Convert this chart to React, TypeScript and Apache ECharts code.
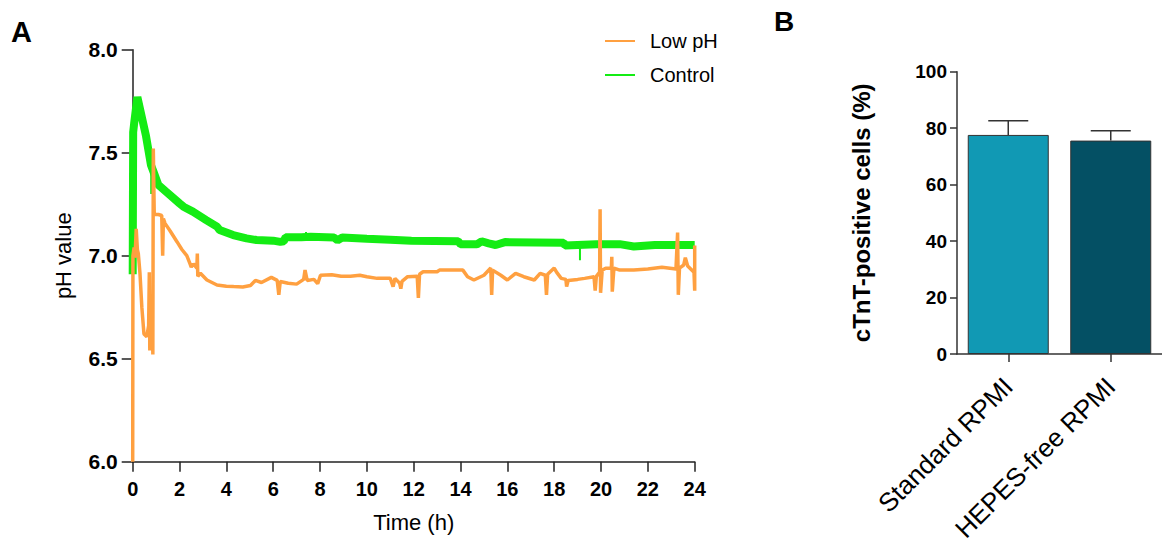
import React, { useEffect, useRef } from "react";
import * as echarts from "echarts";

// Panel A: pH traces over 24 h, [time (h), pH]
const lowPhTrace: [number, number][] = [
  [0, 6.0], [0.01, 7.0], [0.06, 7.04], [0.1, 6.99], [0.15, 7.13], [0.2, 7.03], [0.24, 7.01],
  [0.31, 6.915], [0.39, 6.75], [0.48, 6.62], [0.6, 6.607], [0.68, 6.66], [0.71, 6.92], [0.73, 6.54],
  [0.77, 6.72], [0.84, 6.74], [0.86, 6.52], [0.88, 7.52], [0.92, 7.2], [1.1, 7.2], [1.24, 7.195],
  [1.28, 7.0], [1.31, 7.18], [1.38, 7.157], [1.6, 7.12], [1.89, 7.068], [2.1, 7.03], [2.31, 7.0],
  [2.45, 6.96], [2.5, 6.945], [2.6, 6.96], [2.74, 6.94], [2.76, 7.01], [2.78, 6.9], [2.89, 6.915],
  [3.17, 6.882], [3.6, 6.858], [4.0, 6.852], [4.31, 6.85], [4.7, 6.848], [5.03, 6.855], [5.24, 6.88],
  [5.5, 6.87], [5.92, 6.895], [6.17, 6.88], [6.24, 6.81], [6.3, 6.875], [6.64, 6.866], [7.0, 6.862],
  [7.3, 6.885], [7.36, 6.93], [7.45, 6.88], [7.74, 6.885], [7.9, 6.864], [8.02, 6.905], [8.5, 6.908],
  [8.9, 6.9], [9.3, 6.9], [9.7, 6.905], [10.0, 6.898], [10.44, 6.89], [11.0, 6.89], [11.12, 6.85],
  [11.2, 6.89], [11.4, 6.866], [11.45, 6.84], [11.5, 6.875], [11.74, 6.898], [12.15, 6.9], [12.2, 6.795],
  [12.25, 6.91], [12.4, 6.922], [13.0, 6.922], [13.1, 6.93], [14.1, 6.93], [14.3, 6.898], [14.57, 6.882],
  [15.0, 6.905], [15.29, 6.94], [15.33, 6.81], [15.37, 6.93], [15.72, 6.905], [16.0, 6.882], [16.35, 6.914],
  [16.7, 6.898], [17.15, 6.882], [17.4, 6.914], [17.62, 6.905], [17.67, 6.81], [17.72, 6.91], [18.0, 6.94],
  [18.1, 6.92], [18.3, 6.89], [18.5, 6.885], [18.53, 6.85], [18.6, 6.88], [19.0, 6.885], [19.3, 6.89],
  [19.7, 6.898], [19.75, 6.83], [19.8, 6.9], [19.94, 6.92], [19.96, 7.225], [19.98, 6.82], [20.05, 6.93],
  [20.2, 6.939], [20.44, 6.94], [20.46, 6.995], [20.48, 6.825], [20.55, 6.94], [20.8, 6.93], [21.4, 6.93],
  [22.0, 6.935], [22.6, 6.944], [23.2, 6.935], [23.27, 7.112], [23.3, 6.81], [23.35, 6.94], [23.53, 6.955],
  [23.6, 6.99], [23.7, 6.95], [23.97, 6.92], [24, 6.83], [24, 7.05],
];

const controlTrace: [number, number][] = [
  [0, 6.91], [0.02, 7.6], [0.06, 7.64], [0.2, 7.77], [0.57, 7.58], [0.78, 7.44],
  [0.88, 7.41], [1.1, 7.343], [1.43, 7.31], [2.0, 7.254], [2.17, 7.238], [2.57, 7.214],
  [3.14, 7.173], [3.6, 7.141], [3.71, 7.125], [4.29, 7.1], [4.86, 7.084], [5.29, 7.076], [6.0, 7.073],
  [6.3, 7.067], [6.45, 7.07], [6.53, 7.09], [7.2, 7.09], [7.6, 7.092], [8.6, 7.088],
  [8.75, 7.075], [8.95, 7.088], [10.0, 7.082], [11.0, 7.078], [11.9, 7.072], [13.9, 7.07], [14.0, 7.056],
  [14.7, 7.055], [14.9, 7.07], [15.2, 7.06], [15.5, 7.052], [15.9, 7.066], [18.4, 7.063], [18.46, 7.05],
  [19.8, 7.056], [20.8, 7.056], [21.4, 7.045], [22.3, 7.052], [24, 7.052],
];

// thin noise spikes of the control trace ('-' breaks the line)
const controlSpikes: [number, number | string][] = [
  [0.79, 7.42], [0.79, 7.3], [0.79, "-"],
  [7.4, 7.09], [7.4, 7.115], [7.4, "-"],
  [19.1, 7.04], [19.1, 6.978], [19.1, "-"],
];

// Panel B: cTnT-positive cells
const cellCategories = ["Standard RPMI", "HEPES-free RPMI"];
const cellMeans = [77.6, 75.6];
const cellErrors = [5.0, 3.5];

const FONT = '"Liberation Sans", Arial, sans-serif';
const AXIS_COLOR = "#222";
const GREEN = "#14ec14";
const ORANGE = "#ffa040";

export default function App() {
  const ref = useRef<HTMLDivElement>(null);

  useEffect(() => {
    if (!ref.current) return;
    const chart = echarts.init(ref.current, undefined, { renderer: "svg" });

    const axisLine = { show: true, onZero: false, lineStyle: { color: AXIS_COLOR, width: 1.5 } };
    const tickStyle = { color: AXIS_COLOR, width: 1.5 };

    chart.setOption({
      animation: false,
      textStyle: { fontFamily: FONT },
      graphic: [
        { type: "text", left: 11, top: 17, style: { text: "A", font: `bold 29px ${FONT}`, fill: "#000" } },
        { type: "text", left: 774, top: 7, style: { text: "B", font: `bold 28px ${FONT}`, fill: "#000" } },
      ],
      legend: {
        data: ["Low pH", "Control"],
        orient: "vertical",
        left: 605,
        top: 31,
        padding: 0,
        icon: "rect",
        itemWidth: 30,
        itemHeight: 2,
        itemGap: 14,
        textStyle: { fontSize: 20, color: "#000", lineHeight: 20, padding: [0, 0, 0, 10] },
      },
      grid: [
        { left: 132.7, top: 49.7, width: 562, height: 412 },
        { left: 957, top: 71.7, width: 212, height: 282.3 },
      ],
      xAxis: [
        {
          gridIndex: 0,
          type: "value",
          min: 0,
          max: 24,
          interval: 2,
          name: "Time (h)",
          nameLocation: "middle",
          nameGap: 50,
          nameTextStyle: { fontSize: 22, color: "#000" },
          axisLine,
          axisTick: { show: true, length: 10, lineStyle: tickStyle },
          axisLabel: { fontSize: 20, fontWeight: "bold", color: "#000", margin: 17 },
          splitLine: { show: false },
        },
        {
          gridIndex: 1,
          type: "category",
          data: cellCategories,
          axisLine: { show: true, lineStyle: { color: "#333", width: 1.5 } },
          axisTick: { show: true, alignWithLabel: true, length: 8, lineStyle: { color: "#333", width: 1.5 } },
          axisLabel: { rotate: 45, fontSize: 26, color: "#000", margin: 28, interval: 0 },
        },
      ],
      yAxis: [
        {
          gridIndex: 0,
          type: "value",
          min: 6,
          max: 8,
          interval: 0.5,
          name: "pH value",
          nameLocation: "middle",
          nameGap: 58,
          nameTextStyle: { fontSize: 22, color: "#000" },
          axisLine,
          axisTick: { show: true, length: 11, lineStyle: tickStyle },
          axisLabel: {
            fontSize: 21,
            fontWeight: "bold",
            color: "#000",
            margin: 15,
            formatter: (v: number) => v.toFixed(1),
          },
          splitLine: { show: false },
        },
        {
          gridIndex: 1,
          type: "value",
          min: 0,
          max: 100,
          interval: 20,
          name: "cTnT-positive cells (%)",
          nameLocation: "middle",
          nameGap: 84,
          nameTextStyle: { fontSize: 24, fontWeight: "bold", color: "#000" },
          axisLine: { show: true, lineStyle: { color: "#333", width: 1.5 } },
          axisTick: { show: true, length: 7, lineStyle: { color: "#333", width: 1.5 } },
          axisLabel: { fontSize: 19, fontWeight: "bold", color: "#000", margin: 10 },
          splitLine: { show: false },
        },
      ],
      series: [
        {
          name: "Control",
          type: "line",
          xAxisIndex: 0,
          yAxisIndex: 0,
          data: controlTrace,
          symbol: "none",
          color: GREEN,
          lineStyle: { width: 8, color: GREEN },
          z: 2,
        },
        {
          name: "Control",
          type: "line",
          xAxisIndex: 0,
          yAxisIndex: 0,
          data: controlSpikes,
          symbol: "none",
          connectNulls: false,
          color: GREEN,
          lineStyle: { width: 2, color: GREEN },
          z: 2,
        },
        {
          name: "Low pH",
          type: "line",
          xAxisIndex: 0,
          yAxisIndex: 0,
          data: lowPhTrace,
          symbol: "none",
          color: ORANGE,
          lineStyle: { width: 3.5, color: ORANGE },
          z: 3,
        },
        {
          type: "bar",
          xAxisIndex: 1,
          yAxisIndex: 1,
          barWidth: 81,
          data: cellMeans.map((v, i) => ({
            value: v,
            itemStyle: { color: i === 0 ? "#1199b4" : "#045064", borderColor: "#333", borderWidth: 1 },
          })),
        },
        {
          type: "custom",
          xAxisIndex: 1,
          yAxisIndex: 1,
          z: 5,
          data: cellMeans.map((v, i) => [i, v, v + cellErrors[i]]),
          encode: { x: 0, y: [1, 2] },
          renderItem: (params: any, api: any) => {
            const i = api.value(0);
            const p0 = api.coord([i, api.value(1)]);
            const p1 = api.coord([i, api.value(2)]);
            const style = { stroke: "#333", lineWidth: 1.5 };
            return {
              type: "group",
              children: [
                { type: "line", shape: { x1: p0[0], y1: p0[1], x2: p1[0], y2: p1[1] }, style },
                { type: "line", shape: { x1: p1[0] - 20, y1: p1[1], x2: p1[0] + 20, y2: p1[1] }, style },
              ],
            };
          },
        },
      ],
    });

    return () => chart.dispose();
  }, []);

  return (
    <div
      ref={ref}
      style={{ position: "absolute", left: 0, top: 0, width: 1162, height: 545, background: "#fff" }}
    />
  );
}
